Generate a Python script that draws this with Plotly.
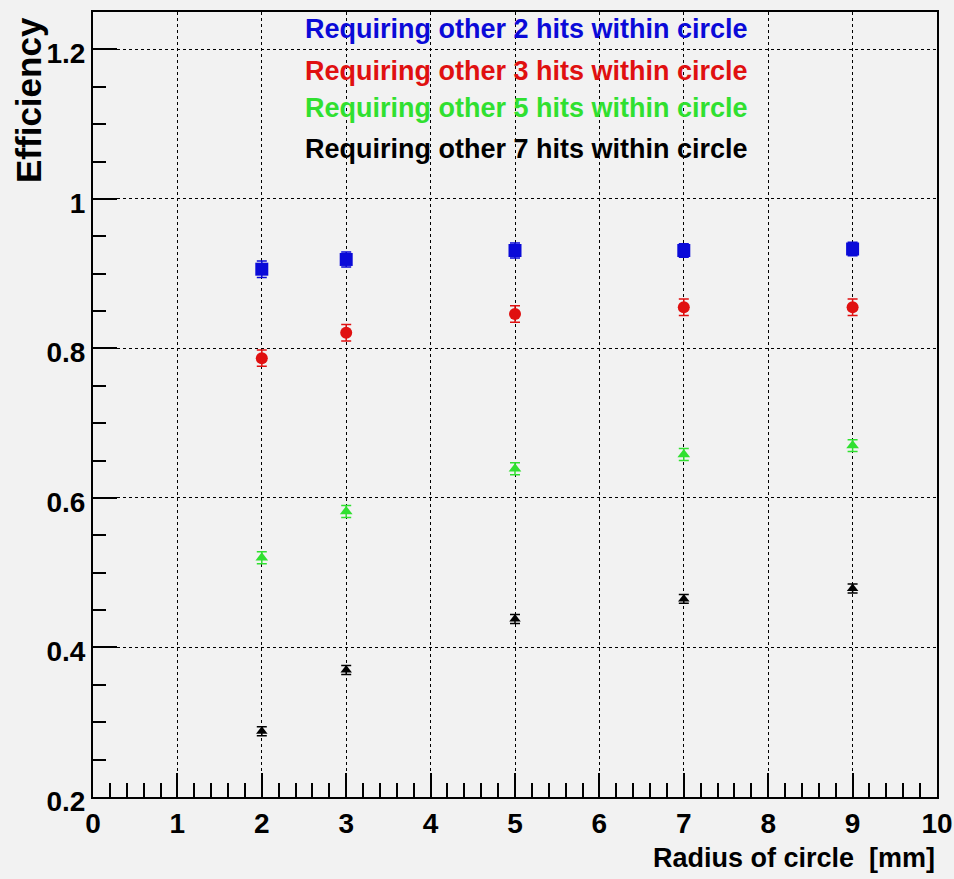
import plotly.graph_objects as go

# Circle radius (mm) and efficiency for each hit-count requirement
radius = [2, 3, 5, 7, 9]

eff_2hits = [0.906, 0.919, 0.931, 0.931, 0.933]
err_2hits = [0.011, 0.010, 0.010, 0.009, 0.009]

eff_3hits = [0.787, 0.821, 0.846, 0.855, 0.855]
err_3hits = [0.011, 0.011, 0.011, 0.011, 0.011]

eff_5hits = [0.520, 0.582, 0.639, 0.658, 0.670]
err_5hits = [0.008, 0.008, 0.008, 0.008, 0.008]

eff_7hits = [0.288, 0.370, 0.438, 0.465, 0.479]
err_7hits = [0.006, 0.006, 0.006, 0.006, 0.006]

series_labels = [
    "Requiring other 2 hits within circle",
    "Requiring other 3 hits within circle",
    "Requiring other 5 hits within circle",
    "Requiring other 7 hits within circle",
]
series_colors = ["#0a0ad8", "#e01010", "#30e030", "#000000"]
series_symbols = ["square", "circle", "triangle-up", "triangle-up"]
series_sizes = [13, 12, 11, 10]

x_tickvals = list(range(0, 11))
x_ticktext = [str(v) for v in x_tickvals]
y_tickvals = [0.2, 0.4, 0.6, 0.8, 1.0, 1.2]
y_ticktext = ["0.2", "0.4", "0.6", "0.8", "1", "1.2"]

x_title = "Radius of circle  [mm]"
y_title = "Efficiency"

BG = "#f2f2f2"
FONT = "Liberation Sans, Arial, Helvetica, sans-serif"

# Plot frame geometry in pixels
W, H = 954, 879
ML, MR, MT, MB = 93, 17, 12, 82
PW, PH = W - ML - MR, H - MT - MB

fig = go.Figure()

for eff, err, color, sym, size in zip(
    [eff_2hits, eff_3hits, eff_5hits, eff_7hits],
    [err_2hits, err_3hits, err_5hits, err_7hits],
    series_colors, series_symbols, series_sizes,
):
    fig.add_trace(go.Scatter(
        x=radius, y=eff, mode="markers",
        marker=dict(symbol=sym, size=size, color=color, line=dict(width=0)),
        error_y=dict(type="data", array=err, color=color, thickness=1.5, width=5),
        showlegend=False,
    ))

# Coloured text legend in the upper part of the frame
legend_rows_px = [29, 71, 108, 149]
for label, color, ypx in zip(series_labels, series_colors, legend_rows_px):
    fig.add_annotation(
        text=f"<b>{label}</b>", xref="paper", yref="paper",
        x=(303 - ML) / PW, y=1 - (ypx - MT) / PH, xanchor="left", yanchor="middle",
        showarrow=False, font=dict(family=FONT, size=27, color=color),
    )

# Axis titles placed at the ends of the axes
fig.add_annotation(
    text=f"<b>{x_title}</b>", xref="paper", yref="paper",
    x=1.0, y=-(858 - (H - MB)) / PH, xanchor="right", yanchor="middle",
    showarrow=False, font=dict(family=FONT, size=27, color="black"),
)
fig.add_annotation(
    text=f"<b>{y_title}</b>", xref="paper", yref="paper",
    x=-(ML - 29) / PW, y=1 - (100 - MT) / PH, xanchor="center", yanchor="middle",
    textangle=-90, showarrow=False, font=dict(family=FONT, size=35, color="black"),
)

axis_common = dict(
    showline=True, mirror=True, linecolor="black", linewidth=2,
    ticks="inside", tickcolor="black", tickwidth=2,
    showgrid=True, gridcolor="black", gridwidth=1, griddash="dot",
    zeroline=False, automargin=False,
    tickfont=dict(family=FONT, size=28, color="black", weight="bold"),
)

fig.update_xaxes(
    range=[0, 10], tickvals=x_tickvals, ticktext=x_ticktext, ticklen=24,
    minor=dict(dtick=0.2, ticks="inside", ticklen=14, tickcolor="black",
               tickwidth=1.5, showgrid=False),
    **axis_common,
)
fig.update_yaxes(
    range=[0.2, 1.25], tickvals=y_tickvals, ticktext=y_ticktext, ticklen=24,
    ticklabelshift=4,
    minor=dict(tickvals=[round(0.2 + 0.05 * k, 2) for k in range(22)],
               ticks="inside", ticklen=13, tickcolor="black",
               tickwidth=1.5, showgrid=False),
    **axis_common,
)

fig.update_layout(
    width=W, height=H,
    margin=dict(l=ML, r=MR, t=MT, b=MB),
    paper_bgcolor=BG, plot_bgcolor=BG,
    font=dict(family=FONT, color="black"),
)

fig.write_html("out.html")
